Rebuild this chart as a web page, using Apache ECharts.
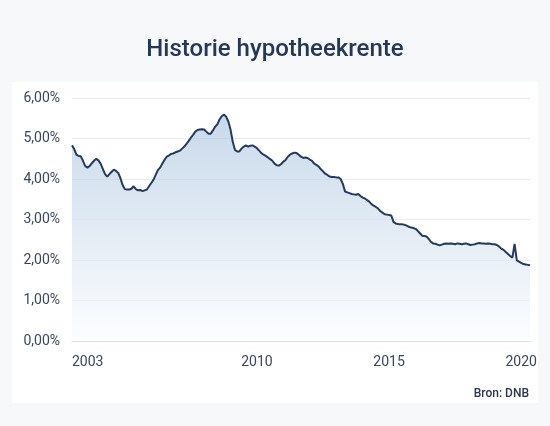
<!DOCTYPE html>
<html>
<head>
<meta charset="utf-8">
<script src="https://cdn.jsdelivr.net/npm/echarts@6/dist/echarts.min.js"></script>
<style>
  html, body { margin: 0; padding: 0; width: 550px; height: 426px; background: #f7f8fa; overflow: hidden; }
  #card { position: absolute; left: 12px; top: 82px; width: 526px; height: 321px; background: #ffffff; }
  #chart { position: absolute; left: 0; top: 0; width: 550px; height: 426px; }
</style>
</head>
<body>
<div id="card"></div>
<div id="chart"></div>
<script>
// Monthly data, January 2003 to May 2020
const startYear = 2003;
const tickLabels = ['2003', '2010', '2015', '2020'];
const yTicks = [0, 1, 2, 3, 4, 5, 6];
const rates = [
  4.83, 4.74, 4.60, 4.57, 4.56, 4.45, 4.32, 4.28, 4.32, 4.39, 4.45, 4.50,
  4.46, 4.38, 4.25, 4.12, 4.06, 4.12, 4.18, 4.23, 4.20, 4.15, 4.02, 3.85,
  3.75, 3.74, 3.74, 3.76, 3.82, 3.75, 3.72, 3.73, 3.70, 3.72, 3.74, 3.82,
  3.90, 3.98, 4.10, 4.22, 4.28, 4.38, 4.47, 4.55, 4.58, 4.62, 4.63, 4.66,
  4.68, 4.70, 4.75, 4.80, 4.87, 4.94, 5.02, 5.09, 5.17, 5.21, 5.22, 5.23,
  5.22, 5.17, 5.12, 5.12, 5.20, 5.29, 5.35, 5.47, 5.55, 5.59, 5.54, 5.42,
  5.22, 4.92, 4.72, 4.68, 4.68, 4.75, 4.80, 4.83, 4.80, 4.82, 4.83, 4.80,
  4.76, 4.70, 4.64, 4.60, 4.57, 4.53, 4.49, 4.45, 4.38, 4.34, 4.33, 4.37,
  4.43, 4.47, 4.55, 4.60, 4.63, 4.65, 4.64, 4.60, 4.55, 4.52, 4.53, 4.52,
  4.48, 4.45, 4.38, 4.35, 4.31, 4.24, 4.19, 4.13, 4.10, 4.06, 4.05, 4.05,
  4.04, 4.04, 4.00, 3.88, 3.69, 3.67, 3.65, 3.63, 3.62, 3.61, 3.63, 3.58,
  3.54, 3.52, 3.48, 3.44, 3.38, 3.34, 3.31, 3.27, 3.21, 3.17, 3.13, 3.12,
  3.11, 3.10, 2.94, 2.90, 2.89, 2.88, 2.88, 2.87, 2.85, 2.82, 2.80, 2.79,
  2.77, 2.72, 2.66, 2.60, 2.59, 2.58, 2.52, 2.45, 2.41, 2.40, 2.38, 2.36,
  2.38, 2.40, 2.41, 2.40, 2.41, 2.40, 2.39, 2.41, 2.40, 2.39, 2.40, 2.41,
  2.39, 2.37, 2.38, 2.39, 2.41, 2.42, 2.41, 2.41, 2.40, 2.41, 2.40, 2.39,
  2.39, 2.37, 2.33, 2.28, 2.25, 2.20, 2.15, 2.10, 2.06, 2.40, 1.99, 1.96,
  1.93, 1.90, 1.89, 1.88, 1.87
];
const months = rates.map((_, i) => {
  const y = startYear + Math.floor(i / 12);
  const m = (i % 12) + 1;
  return y + '-' + (m < 10 ? '0' + m : m);
});

const FONT = 'Roboto';
const chart = echarts.init(document.getElementById('chart'), null, { renderer: 'canvas' });
chart.setOption({
  backgroundColor: 'transparent',
  animation: false,
  title: [{
    text: 'Historie hypotheekrente',
    left: 'center',
    top: 33,
    textStyle: { fontFamily: FONT, fontSize: 24, fontWeight: 500, color: '#243757' }
  }, {
    text: 'Bron: DNB',
    right: 16,
    top: 383,
    textStyle: { fontFamily: FONT, fontSize: 12, fontWeight: 500, color: '#2a3550' }
  }],
  grid: { left: 72, right: 20, top: 98, bottom: 85, containLabel: false },
  xAxis: {
    type: 'category',
    data: months,
    boundaryGap: false,
    axisLine: { show: true, lineStyle: { color: '#dcdee3', width: 1 } },
    axisTick: { show: false },
    splitLine: { show: false },
    axisLabel: {
      interval: function (idx, val) {
        return val.slice(5) === '01' && tickLabels.indexOf(val.slice(0, 4)) >= 0;
      },
      formatter: function (val) { return val.slice(0, 4); },
      alignMinLabel: 'left',
      margin: 14,
      fontFamily: FONT,
      fontSize: 14,
      color: '#3a4560'
    }
  },
  yAxis: {
    type: 'value',
    min: yTicks[0],
    max: yTicks[yTicks.length - 1],
    interval: 1,
    axisLine: { show: false },
    axisTick: { show: false },
    splitLine: { show: true, lineStyle: { color: '#ebecf0', width: 1 } },
    axisLabel: {
      margin: 12,
      fontFamily: FONT,
      fontSize: 14,
      color: '#3a4560',
      formatter: function (v) { return v.toFixed(2).replace('.', ',') + '%'; }
    }
  },
  series: [{
    type: 'line',
    data: rates,
    symbol: 'none',
    smooth: false,
    lineStyle: { color: '#243a5e', width: 2 },
    areaStyle: {
      color: new echarts.graphic.LinearGradient(0, 0, 0, 1, [
        { offset: 0, color: '#b0c8e1' },
        { offset: 1, color: '#fbfcfe' }
      ])
    }
  }]
});
</script>
</body>
</html>
